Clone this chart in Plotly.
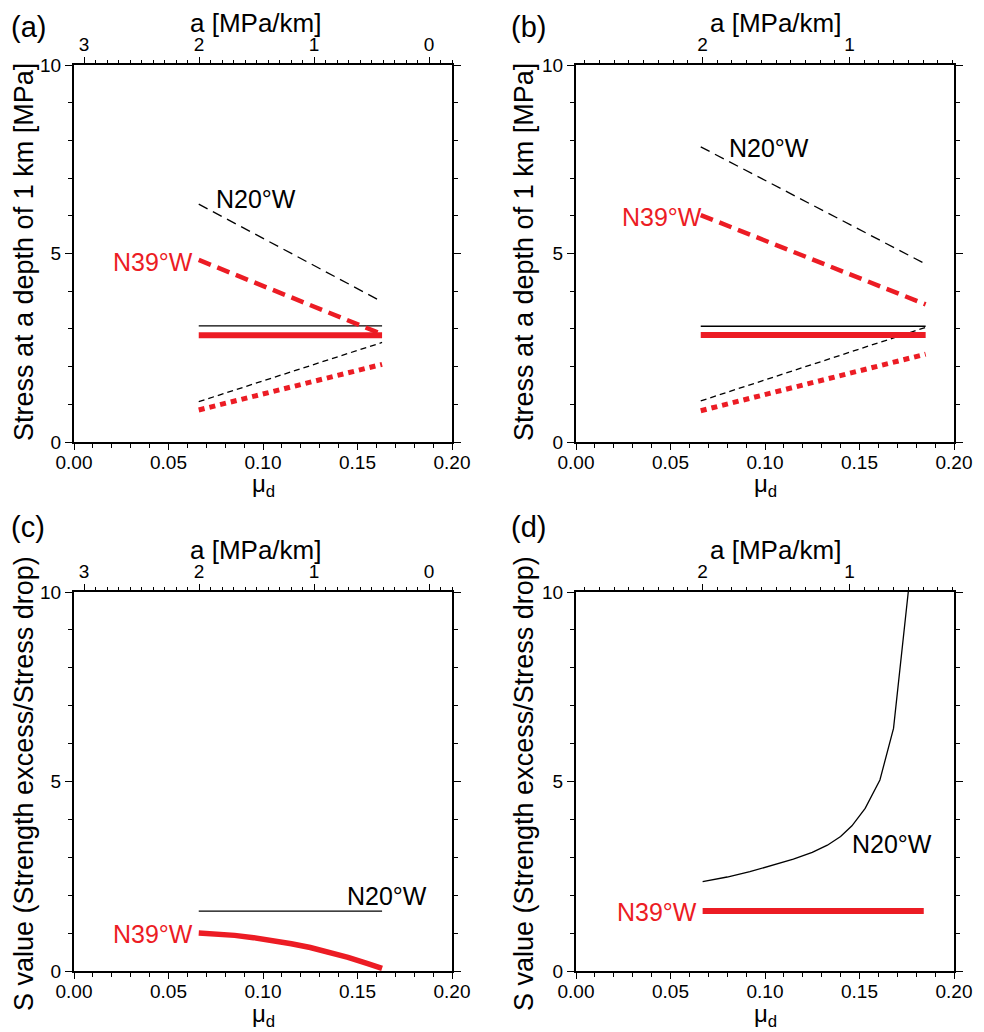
import plotly.graph_objects as go

# ---------------- data ----------------
# (a) stress at 1 km depth vs dynamic friction
mu_a = [0.066, 0.163]
a_n20_upper = [6.31, 3.72]
a_n39_upper = [4.83, 2.86]
a_n20_mid = [3.08, 3.08]
a_n39_mid = [2.83, 2.83]
a_n20_lower = [1.07, 2.64]
a_n39_lower = [0.85, 2.06]

# (b)
mu_b = [0.066, 0.185]
b_n20_upper = [7.83, 4.72]
b_n39_upper = [6.02, 3.65]
b_n20_mid = [3.07, 3.07]
b_n39_mid = [2.84, 2.84]
b_n20_lower = [1.09, 3.04]
b_n39_lower = [0.83, 2.33]

# (c) S value
c_mu_n20 = [0.066, 0.163]
c_n20 = [1.58, 1.58]
c_mu_n39 = [0.066, 0.075, 0.085, 0.095, 0.105, 0.115, 0.125, 0.135, 0.145, 0.155, 0.163]
c_n39 = [1.00, 0.98, 0.94, 0.88, 0.81, 0.72, 0.62, 0.50, 0.36, 0.20, 0.07]

# (d) S value
d_mu_n20 = [0.067, 0.080, 0.092, 0.105, 0.115, 0.125, 0.133, 0.140, 0.146,
            0.153, 0.1608, 0.168, 0.1758]
d_n20 = [2.36, 2.48, 2.62, 2.80, 2.95, 3.13, 3.32, 3.55, 3.83,
         4.29, 5.04, 6.40, 10.0]
d_mu_n39 = [0.067, 0.184]
d_n39 = [1.58, 1.58]

# top-axis (a [MPa/km]) ranges matching the mu_d axis span [0, 0.2]
a_range_left = [3.087, -0.2]
a_range_right = [2.86, 0.29]

labels = ["(a)", "(b)", "(c)", "(d)"]
stress_title = "Stress at a depth of 1 km [MPa]"
s_title = "S value (Strength excess/Stress drop)"

# ---------------- styling ----------------
FONT = "Liberation Sans, Arial, Helvetica, sans-serif"
RED = "rgb(236,28,36)"
BLACK = "black"
W, H = 984, 1032


def px_x(p):
    return p / W


def px_y(p):
    return 1 - p / H


fig = go.Figure()


def line(x, y, ax, color, width, dash="solid"):
    fig.add_trace(go.Scatter(
        x=x, y=y, mode="lines", xaxis=ax[0], yaxis=ax[1],
        line=dict(color=color, width=width, dash=dash),
        showlegend=False, hoverinfo="skip"))


DASH_LONG = "10px,6px"
DASH_SHORT = "6px,4px"
RED_DASH = "13px,7px"
RED_DOT = "6px,5px"

# panel (a)
ax = ("x", "y")
line(mu_a, a_n20_upper, ax, BLACK, 1.3, DASH_LONG)
line(mu_a, a_n20_mid, ax, BLACK, 1.3)
line(mu_a, a_n20_lower, ax, BLACK, 1.3, DASH_SHORT)
line(mu_a, a_n39_upper, ax, RED, 4.5, RED_DASH)
line(mu_a, a_n39_mid, ax, RED, 6)
line(mu_a, a_n39_lower, ax, RED, 5, RED_DOT)

# panel (b)
ax = ("x2", "y2")
line(mu_b, b_n20_upper, ax, BLACK, 1.3, DASH_LONG)
line(mu_b, b_n20_mid, ax, BLACK, 1.3)
line(mu_b, b_n20_lower, ax, BLACK, 1.3, DASH_SHORT)
line(mu_b, b_n39_upper, ax, RED, 4.5, RED_DASH)
line(mu_b, b_n39_mid, ax, RED, 6)
line(mu_b, b_n39_lower, ax, RED, 5, RED_DOT)

# panel (c)
ax = ("x3", "y3")
line(c_mu_n20, c_n20, ax, BLACK, 1.3)
line(c_mu_n39, c_n39, ax, RED, 5.5)

# panel (d)
ax = ("x4", "y4")
line(d_mu_n20, d_n20, ax, BLACK, 1.3)
line(d_mu_n39, d_n39, ax, RED, 6)

# invisible traces so the top a-axes are rendered
for xa, ya in [("x5", "y"), ("x6", "y2"), ("x7", "y3"), ("x8", "y4")]:
    fig.add_trace(go.Scatter(x=[None], y=[None], xaxis=xa, yaxis=ya,
                             showlegend=False, hoverinfo="skip"))

# ---------------- axes ----------------
xdom = [[px_x(74), px_x(452)], [px_x(576), px_x(954)]]
ydom = [[px_y(442), px_y(65)], [px_y(971), px_y(592)]]

tickfont = dict(family=FONT, size=19, color="black")

panels = [  # (x id, y id, xdomain, ydomain, top range)
    ("", "", xdom[0], ydom[0], a_range_left),
    ("2", "2", xdom[1], ydom[0], a_range_right),
    ("3", "3", xdom[0], ydom[1], a_range_left),
    ("4", "4", xdom[1], ydom[1], a_range_right),
]

layout_axes = {}
for i, (xi, yi, xd, yd, arange) in enumerate(panels):
    layout_axes["xaxis" + xi] = dict(
        domain=xd, anchor="y" + yi, range=[0, 0.2], dtick=0.05, tick0=0,
        tickformat=".2f", ticks="outside", ticklen=6, tickwidth=1.2,
        tickcolor="black", showline=True, linewidth=2, linecolor="black",
        mirror=True, showgrid=False, zeroline=False, tickfont=tickfont,
        automargin=False, ticklabelstandoff=-4,
        minor=dict(dtick=0.01, ticks="outside", ticklen=4, tickwidth=1,
                   tickcolor="black", showgrid=False),
        fixedrange=True)
    layout_axes["yaxis" + yi] = dict(
        domain=yd, anchor="x" + xi, range=[0, 10], tickvals=[0, 5, 10],
        ticks="outside", ticklen=7, tickwidth=1.2, tickcolor="black",
        showline=True, linewidth=2, linecolor="black", mirror="ticks",
        showgrid=False, zeroline=False, tickfont=tickfont,
        automargin=False,
        minor=dict(dtick=1, ticks="outside", ticklen=4, tickwidth=1,
                   tickcolor="black", showgrid=False),
        fixedrange=True)
    top_id = str(5 + i)
    layout_axes["xaxis" + top_id] = dict(
        overlaying="x" + xi, anchor="y" + yi, side="top", range=arange,
        dtick=1, tick0=0, ticks="outside", ticklen=7, tickwidth=1.2,
        tickcolor="black", showline=False, showgrid=False, zeroline=False,
        tickfont=tickfont, automargin=False, ticklabelstandoff=-2,
        minor=dict(dtick=0.1, ticks="outside", ticklen=4, tickwidth=1,
                   tickcolor="black", showgrid=False),
        fixedrange=True)

# ---------------- annotations ----------------
ann = []
titlefont = dict(family=FONT, size=26, color="black")
ytitlefont = dict(family=FONT, size=27, color="black")

# panel letters
for lab, (cx, cy) in zip(labels, [(28, 27), (528, 27), (28, 527), (528, 527)]):
    ann.append(dict(text=lab, x=px_x(cx), y=px_y(cy), xref="paper",
                    yref="paper", showarrow=False, xanchor="center",
                    yanchor="middle", font=dict(family=FONT, size=29)))

# top-axis titles
for cx, cy in [(255, 23), (775, 23), (255, 550), (775, 550)]:
    ann.append(dict(text="a [MPa/km]", x=px_x(cx), y=px_y(cy), xref="paper",
                    yref="paper", showarrow=False, xanchor="center",
                    yanchor="middle", font=titlefont))

# bottom-axis titles
for cx, cy in [(263, 486), (765, 486), (263, 1015), (765, 1015)]:
    ann.append(dict(text="μ<sub>d</sub>", x=px_x(cx), y=px_y(cy),
                    xref="paper", yref="paper", showarrow=False,
                    xanchor="center", yanchor="middle",
                    font=dict(family=FONT, size=24)))

# y-axis titles
for cx, cy, t in [(24, 252, stress_title), (524, 252, stress_title),
                  (24, 784, s_title), (524, 784, s_title)]:
    ann.append(dict(text=t, x=px_x(cx), y=px_y(cy), xref="paper",
                    yref="paper", showarrow=False, textangle=-90,
                    xanchor="center", yanchor="middle", font=ytitlefont))

# curve labels (data coordinates)
curve_labels = [
    ("x", "y", 0.0744, 6.45, "N20°W", BLACK, "left"),
    ("x", "y", 0.0634, 4.77, "N39°W", RED, "right"),
    ("x2", "y2", 0.0802, 7.81, "N20°W", BLACK, "left"),
    ("x2", "y2", 0.0672, 5.97, "N39°W", RED, "right"),
    ("x3", "y3", 0.1441, 1.98, "N20°W", BLACK, "left"),
    ("x3", "y3", 0.0633, 0.98, "N39°W", RED, "right"),
    ("x4", "y4", 0.1457, 3.35, "N20°W", BLACK, "left"),
    ("x4", "y4", 0.0645, 1.57, "N39°W", RED, "right"),
]
for xr, yr, xv, yv, t, c, anc in curve_labels:
    ann.append(dict(text=t, x=xv, y=yv, xref=xr, yref=yr, showarrow=False,
                    xanchor=anc, yanchor="middle", borderpad=0,
                    font=dict(family=FONT, size=25, color=c)))

fig.update_layout(
    template="none",
    width=W, height=H, margin=dict(l=0, r=0, t=0, b=0, pad=0),
    paper_bgcolor="white", plot_bgcolor="white",
    font=dict(family=FONT, color="black"),
    annotations=ann, showlegend=False, **layout_axes)

fig.write_html("out.html", config=dict(displayModeBar=False))
